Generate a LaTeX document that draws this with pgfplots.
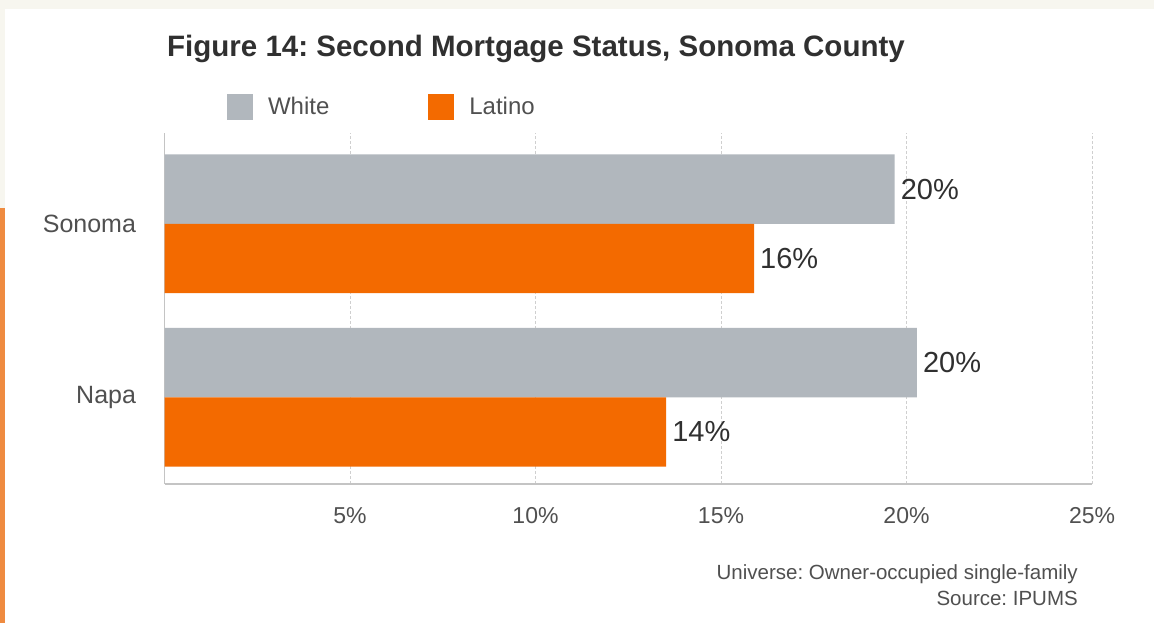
\documentclass[border=0pt]{standalone}
\usepackage{pgfplots}
\pgfplotsset{compat=1.18}
\usepackage{fontspec}
\setmainfont{Liberation Sans}
\definecolor{cream}{HTML}{F7F6EF}
\definecolor{stripe}{HTML}{EF8B40}
\definecolor{barGray}{HTML}{B1B7BD}
\definecolor{barOrange}{HTML}{F36A00}
\definecolor{txt}{HTML}{303030}
\definecolor{txtL}{HTML}{505050}
\definecolor{gridc}{HTML}{CFCFCF}
\definecolor{axisc}{HTML}{C4C4C4}
\begin{document}
\frenchspacing
\begin{tikzpicture}[x=1bp,y=1bp]
\useasboundingbox (0,0) rectangle (1154,623);
\fill[cream] (0,0) rectangle (1154,623);
\fill[white] (5,0) rectangle (1154,614);
\fill[stripe] (0,0) rectangle (5,415);
\node[anchor=base west, inner sep=0pt, text=txt, font=\fontsize{29.5bp}{32bp}\selectfont\bfseries] at (167,566) {Figure 14: Second Mortgage Status, Sonoma County};
\begin{axis}[
  at={(164.5bp,139bp)}, anchor=south west,
  scale only axis, width=927.5bp, height=351bp,
  xmin=0, xmax=25, ymin=-0.5, ymax=1.524,
  axis x line*=bottom, axis y line*=left,
  axis line style={-, draw=axisc, line width=1.8bp},
  xtick={5,10,15,20,25}, xticklabels={5\%,10\%,15\%,20\%,25\%},
  ytick={0,1}, yticklabels={Napa,Sonoma},
  major tick length=0pt,
  xmajorgrids, grid style={draw=gridc, dash pattern=on 3bp off 2bp, line width=0.9bp},
  xticklabel style={font=\fontsize{23bp}{26bp}\selectfont, text=txtL, yshift=-20bp},
  yticklabel style={font=\fontsize{25bp}{28bp}\selectfont, text=txtL, xshift=-25bp},
  /pgf/number format/assume math mode=true,
  legend columns=2,
  legend style={at={(axis description cs:0,1)}, anchor=south west, xshift=62.5bp, yshift=13bp,
    draw=none, fill=none, inner sep=0pt, outer sep=0pt,
    font=\fontsize{24bp}{28bp}\selectfont, text=txtL,
    nodes={inner sep=0pt},
    /tikz/every odd column/.style={column sep=15bp},
    /tikz/every even column/.style={column sep=99bp}},
  legend image code/.code={\fill[#1] (0bp,-13bp) rectangle (26bp,13bp);},
  point meta=x,
  nodes near coords={\pgfmathprintnumber[fixed,precision=0]{\pgfplotspointmeta}\%},
  nodes near coords style={font=\fontsize{29bp}{32bp}\selectfont, text=txt, anchor=west, inner sep=0pt, xshift=6bp},
]
% White bars sit above each category centre, Latino bars below
\addplot[xbar, bar width=0.4, bar shift=0, fill=barGray, draw=none] coordinates {(19.68,1.2) (20.28,0.2)};
\addlegendentry{White}
\addplot[xbar, bar width=0.4, bar shift=0, fill=barOrange, draw=none] coordinates {(15.89,0.8) (13.52,-0.2)};
\addlegendentry{Latino}
\end{axis}
\node[anchor=base east, inner sep=0pt, text=txtL, font=\fontsize{20.5bp}{22bp}\selectfont] at (1078,43) {Universe: Owner-occupied single-family};
\node[anchor=base east, inner sep=0pt, text=txtL, font=\fontsize{20.5bp}{22bp}\selectfont] at (1078,17) {Source: IPUMS};
\end{tikzpicture}
\end{document}
